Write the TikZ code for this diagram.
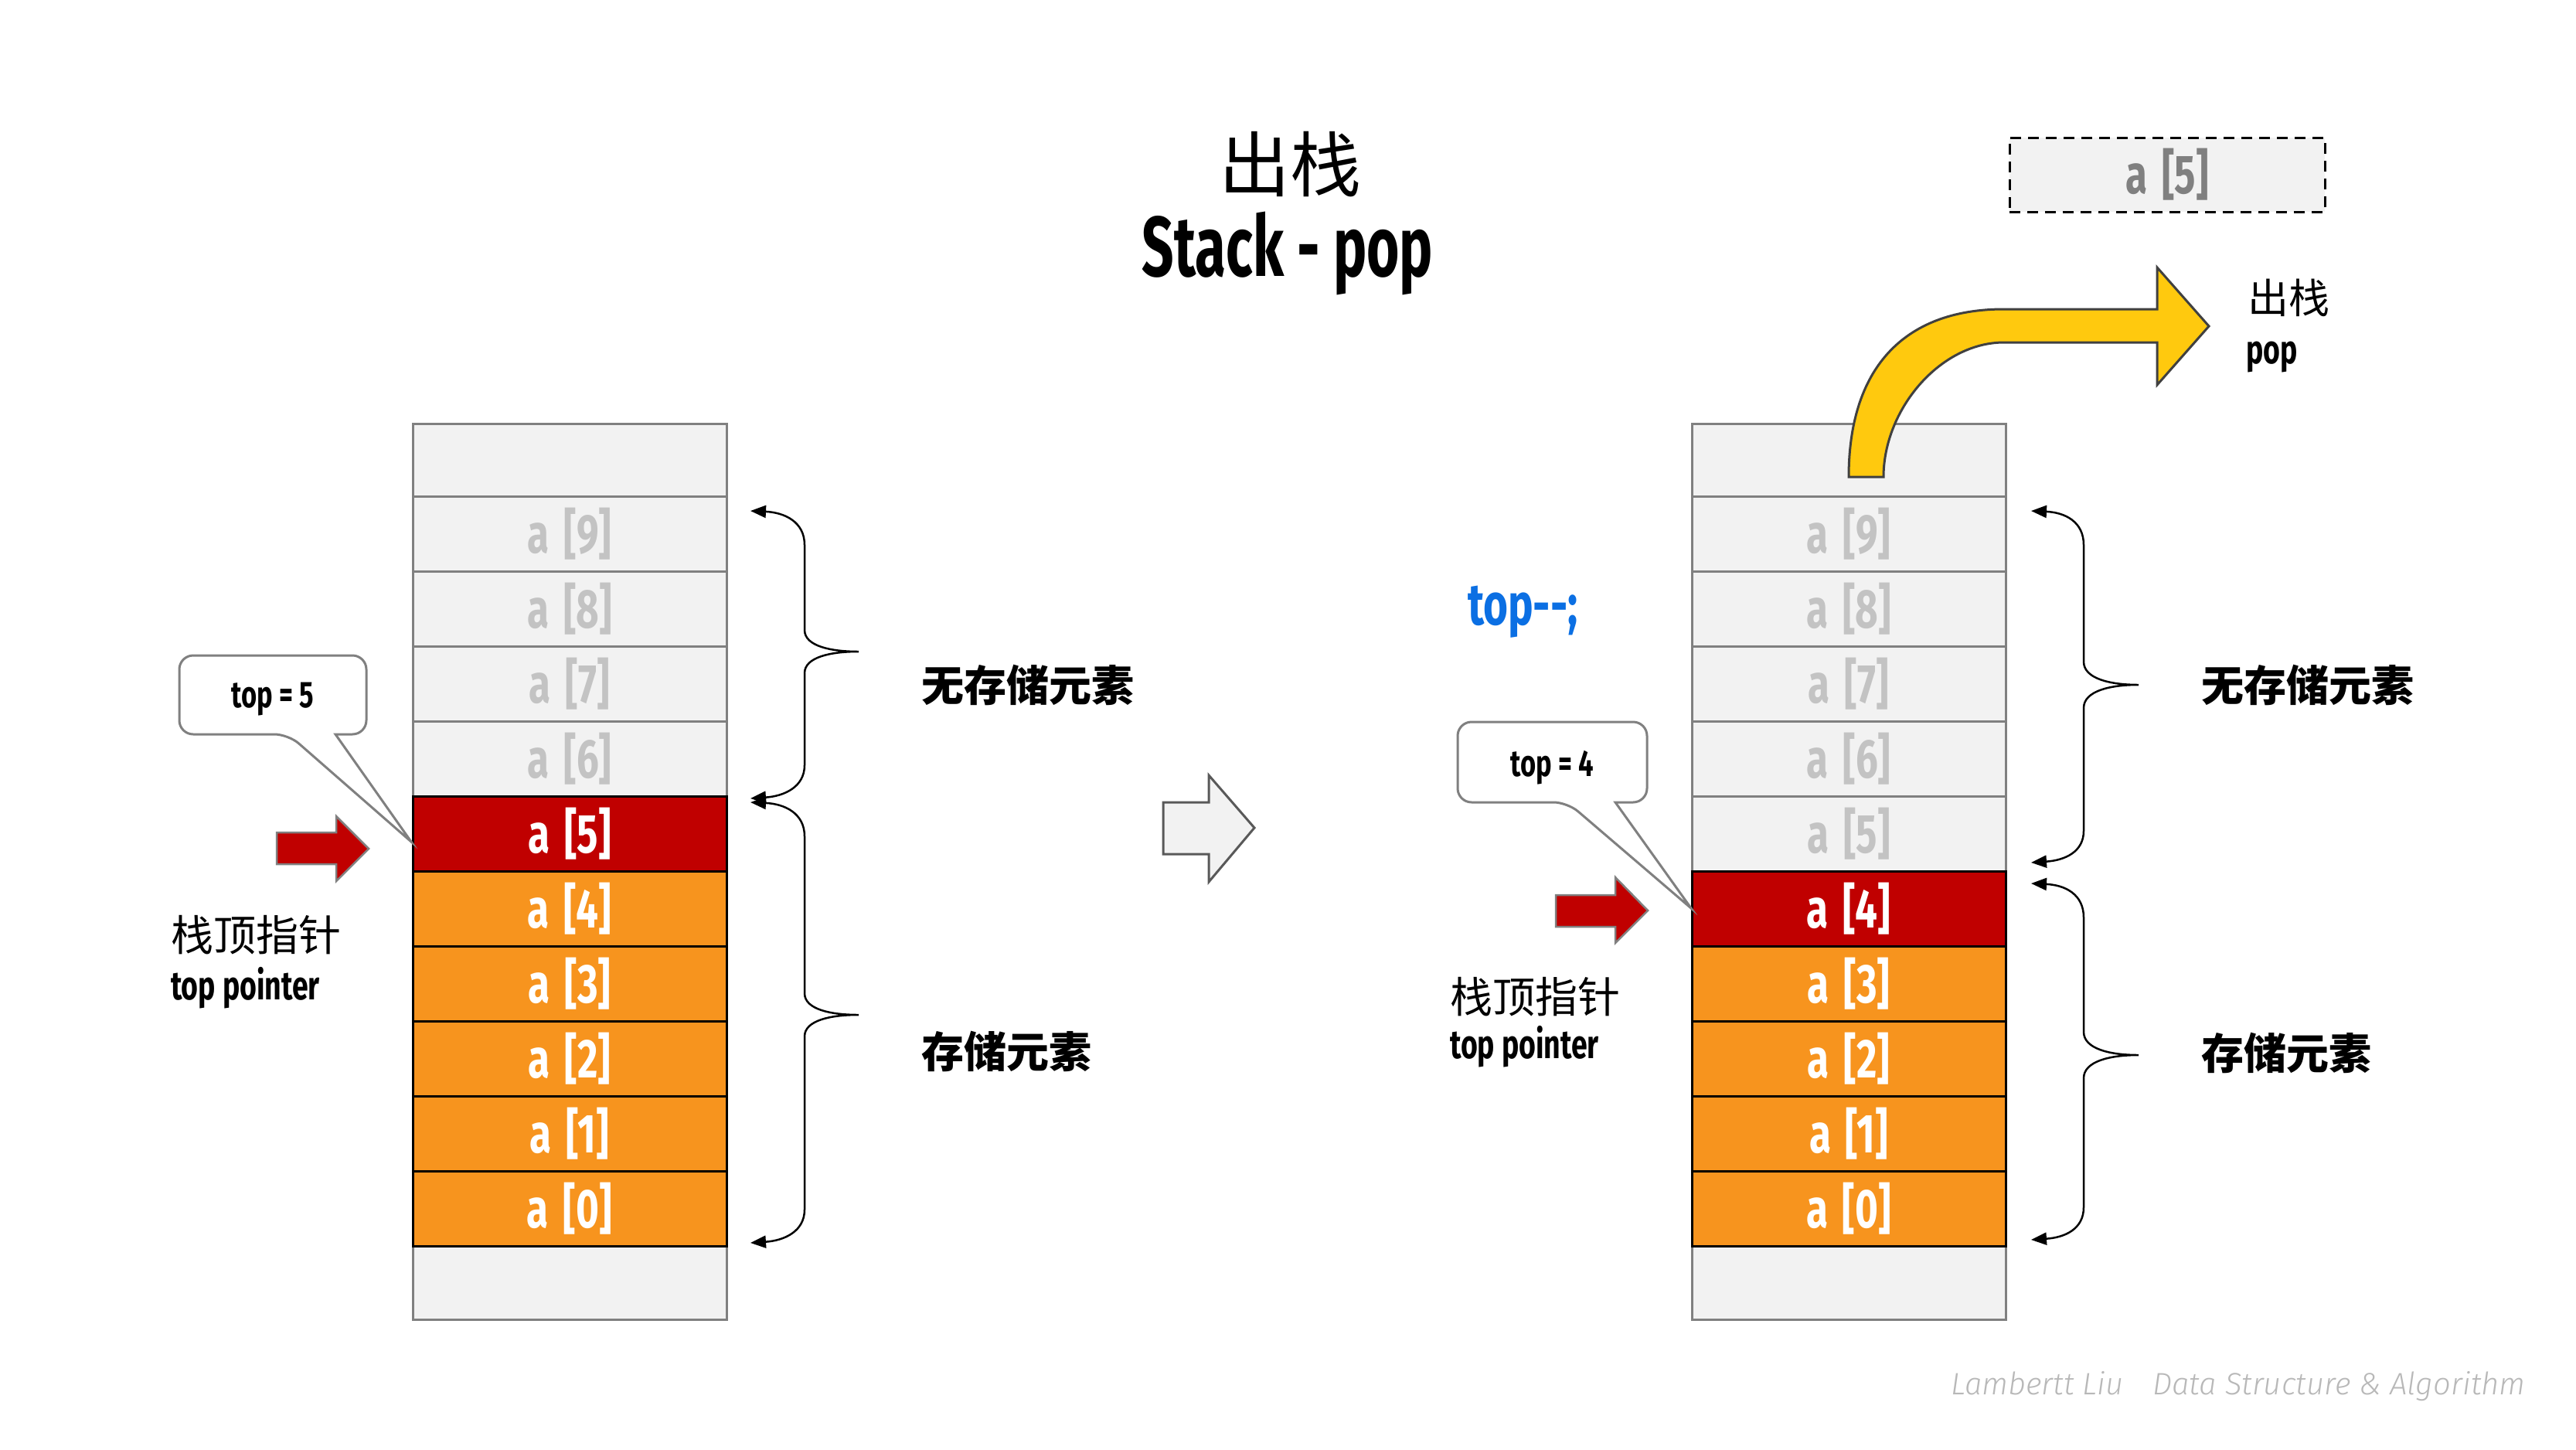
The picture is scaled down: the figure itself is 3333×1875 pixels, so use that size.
\documentclass[tikz,border=0pt]{standalone}
\usepackage{fontspec}
\usetikzlibrary{arrows.meta}
\setmainfont{Fira Sans}
\newfontfamily\agency{Fira Sans}[FakeStretch=0.72]
\newfontfamily\agencyT{Fira Sans}[FakeStretch=0.66]
\newfontfamily\cjk{Noto Sans CJK SC}
\newfontfamily\wmfont{Fira Sans Light Italic}
\definecolor{cellgray}{HTML}{F2F2F2}
\definecolor{linegray}{HTML}{808080}
\definecolor{textgray}{HTML}{C3C3C3}
\definecolor{darkred}{HTML}{C00000}
\definecolor{stackorange}{HTML}{F7941E}
\definecolor{arrowyellow}{HTML}{FFC90E}
\definecolor{codeblue}{HTML}{0B6FE3}
\definecolor{wmgray}{HTML}{B8B8B8}
\newcommand\celltxt[1]{a\kern19pt[#1]}
\begin{document}
\begin{tikzpicture}[x=1pt,y=-1pt,
  cell/.style={draw, line width=3pt, minimum width=406pt, minimum height=97pt, inner sep=0pt,
    font=\agency\bfseries\fontsize{71}{71}\selectfont},
  grayc/.style={cell, fill=cellgray, draw=linegray, text=textgray},
  redc/.style={cell, fill=darkred, draw=black, text=white},
  orangec/.style={cell, fill=stackorange, draw=black, text=white},
  brace/.style={line width=2.5pt, {Triangle[length=20pt,width=16pt]}-{Triangle[length=20pt,width=16pt]}},
  callout/.style={draw=linegray, line width=3pt, fill=white},
  redarrow/.style={draw=linegray, line width=2.5pt, fill=darkred},
  lbl/.style={inner sep=0pt},
  cjklbl/.style={lbl, font=\cjk\fontsize{55}{55}\selectfont},
  cjkbold/.style={lbl, font=\cjk\bfseries\fontsize{55}{55}\selectfont},
  latlbl/.style={lbl, font=\agency\bfseries\fontsize{52}{52}\selectfont},
  wmlbl/.style={lbl, text=wmgray, font=\wmfont\fontsize{40}{40}\selectfont},
]
\useasboundingbox (0,0) rectangle (3333,1875);
\fill[white] (0,0) rectangle (3333,1875);

% ---------- title ----------
\node[lbl, font=\cjk\fontsize{92}{92}\selectfont] (title) at (1669,213) {出栈};
\node[lbl, anchor=base, font=\agencyT\bfseries\fontsize{110}{110}\selectfont] (subtitle) at (1666,357) {Stack - pop};

% ---------- left stack ----------
\node[grayc, minimum height=94pt] (Ltop) at (737,595) {};
\node[grayc] (L9) at (737,690.5) {\celltxt{9}};
\node[grayc] (L8) at (737,787.5) {\celltxt{8}};
\node[grayc] (L7) at (737,884.5) {\celltxt{7}};
\node[grayc] (L6) at (737,981.5) {\celltxt{6}};
\node[grayc, minimum height=95pt] (Lbot) at (737,1659.5) {};
\node[redc] (L5) at (737,1078.5) {\celltxt{5}};
\node[orangec] (L4) at (737,1175.5) {\celltxt{4}};
\node[orangec] (L3) at (737,1272.5) {\celltxt{3}};
\node[orangec] (L2) at (737,1369.5) {\celltxt{2}};
\node[orangec] (L1) at (737,1466.5) {\celltxt{1}};
\node[orangec] (L0) at (737,1563.5) {\celltxt{0}};

% left braces
\draw[brace] (971,661) .. controls (1015,663) and (1041,675) .. (1041,705) -- (1041,815)
  .. controls (1041,836) and (1075,843) .. (1111,843)
  .. controls (1075,843) and (1041,850) .. (1041,871) -- (1041,990)
  .. controls (1041,1018) and (1015,1030) .. (971,1033);
\draw[brace] (971,1038) .. controls (1015,1040) and (1041,1052) .. (1041,1082) -- (1041,1285)
  .. controls (1041,1306) and (1075,1313) .. (1111,1313)
  .. controls (1075,1313) and (1041,1320) .. (1041,1341) -- (1041,1565)
  .. controls (1041,1593) and (1015,1605) .. (971,1608);
\node[cjkbold, anchor=west] (Lfree) at (1192,886) {无存储元素};
\node[cjkbold, anchor=west] (Lused) at (1192,1360) {存储元素};

% left pointer
\draw[callout] (434,950) [rounded corners=18pt] -- (474,950) -- (474,848) -- (232,848) -- (232,950) -- (373,950) [sharp corners] -- (532,1089) -- cycle;
\node[lbl, font=\agency\bfseries\fontsize{48}{48}\selectfont] (Ltopval) at (353,905) {top = 5};
\draw[redarrow] (358,1077) -- (435,1077) -- (435,1056) -- (477,1098) -- (435,1140) -- (435,1118) -- (358,1118) -- cycle;
\node[cjklbl, anchor=west] (Lptr) at (221,1210) {栈顶指针};
\node[latlbl, anchor=base west] (Lptren) at (221,1293) {top pointer};

% ---------- middle arrow ----------
\draw[draw=black!65, line width=3pt, fill=cellgray] (1505,1038) -- (1564,1038) -- (1564,1003) -- (1623,1071) -- (1564,1141) -- (1564,1105) -- (1505,1105) -- cycle;

% ---------- right stack ----------
\node[grayc, minimum height=94pt] (Rtop) at (2392,595) {};
\node[grayc] (R9) at (2392,690.5) {\celltxt{9}};
\node[grayc] (R8) at (2392,787.5) {\celltxt{8}};
\node[grayc] (R7) at (2392,884.5) {\celltxt{7}};
\node[grayc] (R6) at (2392,981.5) {\celltxt{6}};
\node[grayc] (R5) at (2392,1078.5) {\celltxt{5}};
\node[grayc, minimum height=95pt] (Rbot) at (2392,1659.5) {};
\node[redc] (R4) at (2392,1175.5) {\celltxt{4}};
\node[orangec] (R3) at (2392,1272.5) {\celltxt{3}};
\node[orangec] (R2) at (2392,1369.5) {\celltxt{2}};
\node[orangec] (R1) at (2392,1466.5) {\celltxt{1}};
\node[orangec] (R0) at (2392,1563.5) {\celltxt{0}};

% right braces
\draw[brace] (2628,661) .. controls (2672,663) and (2696,675) .. (2696,705) -- (2696,856)
  .. controls (2696,878) and (2730,886) .. (2767,886)
  .. controls (2730,886) and (2696,894) .. (2696,916) -- (2696,1075)
  .. controls (2696,1102) and (2672,1113) .. (2628,1116);
\draw[brace] (2628,1143) .. controls (2672,1145) and (2696,1157) .. (2696,1187) -- (2696,1335)
  .. controls (2696,1357) and (2730,1365) .. (2767,1365)
  .. controls (2730,1365) and (2696,1373) .. (2696,1395) -- (2696,1562)
  .. controls (2696,1590) and (2672,1601) .. (2628,1604);
\node[cjkbold, anchor=west] (Rfree) at (2848,886) {无存储元素};
\node[cjkbold, anchor=west] (Rused) at (2848,1362) {存储元素};

% right pointer
\node[lbl, anchor=base west, text=codeblue, font=\agency\bfseries\fontsize{76}{76}\selectfont] (code) at (1899,808) {top--;};
\draw[callout] (2090,1038) [rounded corners=18pt] -- (2131,1038) -- (2131,934) -- (1886,934) -- (1886,1038) -- (2028,1038) [sharp corners] -- (2188,1175) -- cycle;
\node[lbl, font=\agency\bfseries\fontsize{48}{48}\selectfont] (Rtopval) at (2008,993) {top = 4};
\draw[redarrow] (2013,1158) -- (2090,1158) -- (2090,1135) -- (2132,1178) -- (2090,1220) -- (2090,1199) -- (2013,1199) -- cycle;
\node[cjklbl, anchor=west] (Rptr) at (1876,1290) {栈顶指针};
\node[latlbl, anchor=base west] (Rptren) at (1876,1369) {top pointer};

% popped element
\node[cell, draw=black, dash pattern=on 14pt off 9pt, fill=cellgray, text=linegray, minimum width=408pt, minimum height=96pt] (popped) at (2804,226) {\celltxt{5}};

% yellow arrow
\draw[draw=black!75, line width=3pt, fill=arrowyellow]
  (2392,617) .. controls (2392,480) and (2460,400) .. (2593,400) -- (2791,400) -- (2791,346)
  -- (2858,422) -- (2791,498) -- (2791,443) -- (2593,443)
  .. controls (2510,443) and (2437,530) .. (2437,617) -- cycle;
\node[cjklbl, anchor=west, font=\cjk\fontsize{53}{53}\selectfont] (popcn) at (2908,385) {出栈};
\node[latlbl, anchor=base west] (popen) at (2906,470) {pop};

% watermark
\node[wmlbl, anchor=base west] (wm1) at (2524,1804) {Lambertt Liu};
\node[wmlbl, anchor=base east] (wm2) at (3268,1804) {Data Structure \& Algorithm};
\end{tikzpicture}
\end{document}
